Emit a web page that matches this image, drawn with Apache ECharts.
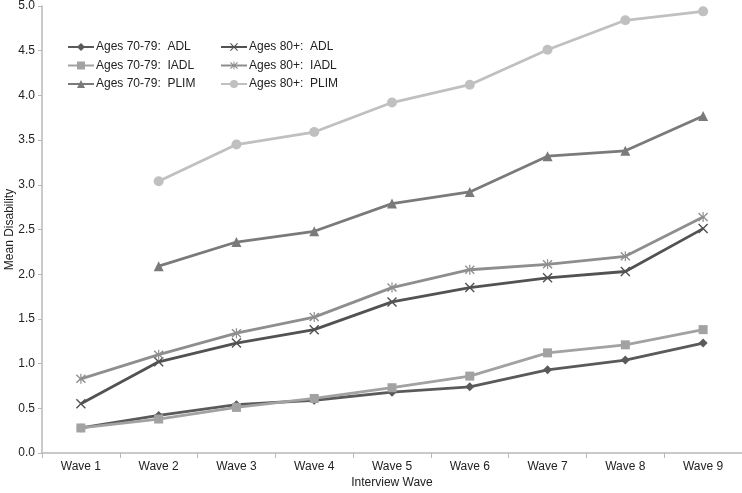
<!DOCTYPE html>
<html>
<head>
<meta charset="utf-8">
<script src="https://cdn.jsdelivr.net/npm/echarts@6/dist/echarts.min.js"></script>
<style>html,body{margin:0;padding:0;background:#fff}#c{width:742px;height:493px}</style>
</head>
<body>
<div id="c"></div>
<script>
var categories = ['Wave 1','Wave 2','Wave 3','Wave 4','Wave 5','Wave 6','Wave 7','Wave 8','Wave 9'];
var adl7079  = [0.28, 0.42, 0.54, 0.59, 0.68, 0.74, 0.93, 1.04, 1.23];
var iadl7079 = [0.28, 0.38, 0.51, 0.61, 0.73, 0.86, 1.12, 1.21, 1.38];
var plim7079 = [null, 2.09, 2.36, 2.48, 2.79, 2.92, 3.32, 3.38, 3.77];
var adl80    = [0.55, 1.02, 1.23, 1.38, 1.69, 1.85, 1.96, 2.03, 2.51];
var iadl80   = [0.83, 1.10, 1.34, 1.52, 1.85, 2.05, 2.11, 2.20, 2.64];
var plim80   = [null, 3.04, 3.45, 3.59, 3.92, 4.12, 4.51, 4.84, 4.94];
var yTicks = ['0.0','0.5','1.0','1.5','2.0','2.5','3.0','3.5','4.0','4.5','5.0'];

var X = 'path://M0,1 L1,0 L5,4 L9,0 L10,1 L6,5 L10,9 L9,10 L5,6 L1,10 L0,9 L4,5 Z';
var STAR = 'path://M0,1.5 L1,0.5 L4.4,3.9 L4.4,0 L5.6,0 L5.6,3.9 L9,0.5 L10,1.5 L6.4,5 L10,8.5 L9,9.5 L5.6,6.1 L5.6,10 L4.4,10 L4.4,6.1 L1,9.5 L0,8.5 L3.6,5 Z';

function mk(name, data, color, symbol, size) {
  return {
    name: name, type: 'line', data: data, symbol: symbol, symbolSize: size,
    showAllSymbol: true, connectNulls: false,
    lineStyle: {color: color, width: 2.8},
    itemStyle: {color: color},
    emphasis: {disabled: true},
    animation: false
  };
}

var font = 'Liberation Sans, Arial, sans-serif';
var chart = echarts.init(document.getElementById('c'));
chart.setOption({
  animation: false,
  grid: {left: 42, right: 0, top: 6, bottom: 40, containLabel: false, outerBoundsMode: 'none'},
  legend: [
    {orient: 'vertical', left: 67, top: 41, padding: 0, itemWidth: 26, itemHeight: 10, itemGap: 6.5,
     textStyle: {fontFamily: font, fontSize: 12, color: '#222', padding: [0,0,0,-3]},
     data: ['Ages 70-79:  ADL','Ages 70-79:  IADL','Ages 70-79:  PLIM']},
    {orient: 'vertical', left: 220, top: 41, padding: 0, itemWidth: 26, itemHeight: 10, itemGap: 6.5,
     textStyle: {fontFamily: font, fontSize: 12, color: '#222', padding: [0,0,0,-3]},
     data: ['Ages 80+:  ADL','Ages 80+:  IADL','Ages 80+:  PLIM']}
  ],
  xAxis: {
    type: 'category', data: categories, boundaryGap: true,
    name: 'Interview Wave', nameLocation: 'middle', nameGap: 24, nameMoveOverlap: false,
    nameTextStyle: {fontFamily: font, fontSize: 12, color: '#222'},
    axisLine: {lineStyle: {color: '#b8b8b8', width: 1.5}},
    axisTick: {show: true, length: 5, lineStyle: {color: '#b8b8b8'}},
    axisLabel: {fontFamily: font, fontSize: 12, color: '#222', margin: 8}
  },
  yAxis: {
    type: 'value', min: 0, max: 5, interval: 0.5,
    name: 'Mean Disability', nameLocation: 'middle', nameGap: 26, nameMoveOverlap: false,
    nameTextStyle: {fontFamily: font, fontSize: 12, color: '#222'},
    axisLine: {show: true, lineStyle: {color: '#b8b8b8', width: 1.5}},
    axisTick: {show: true, length: 4, lineStyle: {color: '#b8b8b8'}},
    splitLine: {show: false},
    axisLabel: {fontFamily: font, fontSize: 12, color: '#222', margin: 7,
      formatter: function (v) { return yTicks[Math.round(v * 2)]; }}
  },
  series: [
    mk('Ages 70-79:  ADL', adl7079, '#5a5a5a', 'diamond', 9),
    mk('Ages 70-79:  IADL', iadl7079, '#a2a2a2', 'rect', 9),
    mk('Ages 70-79:  PLIM', plim7079, '#7a7a7a', 'triangle', 10),
    mk('Ages 80+:  ADL', adl80, '#525252', X, 10),
    mk('Ages 80+:  IADL', iadl80, '#8e8e8e', STAR, 10),
    mk('Ages 80+:  PLIM', plim80, '#c0c0c0', 'circle', 10)
  ]
});
</script>
</body>
</html>
